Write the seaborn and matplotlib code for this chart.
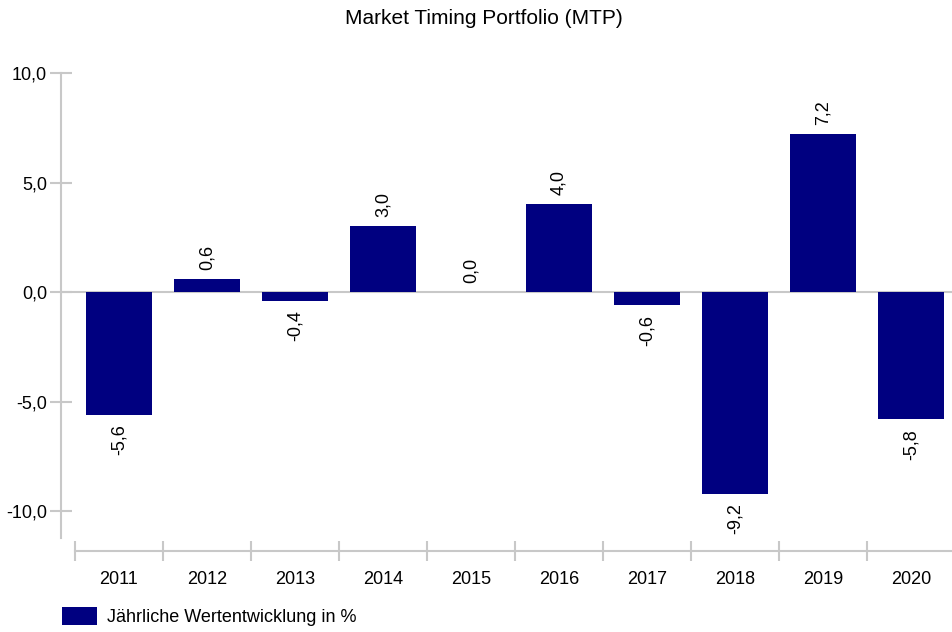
import matplotlib
matplotlib.use('Agg')
import matplotlib.pyplot as plt
import matplotlib.ticker as mticker
import seaborn as sns

years = ['2011', '2012', '2013', '2014', '2015', '2016', '2017', '2018', '2019', '2020']
returns = [-5.6, 0.6, -0.4, 3.0, 0.0, 4.0, -0.6, -9.2, 7.2, -5.8]
series_name = 'Jährliche Wertentwicklung in %'
title = 'Market Timing Portfolio (MTP)'

sns.set_style('white')
plt.rcParams['font.family'] = ['Liberation Sans', 'DejaVu Sans']
plt.rcParams['text.color'] = 'black'
plt.rcParams['xtick.labelcolor'] = 'black'
plt.rcParams['ytick.labelcolor'] = 'black'

W, H = 952, 632
fig = plt.figure(figsize=(W / 100, H / 100), dpi=100)
ax = fig.add_axes([61 / W, 1 - 538 / H, 1 - 61 / W, (538 - 73) / H])

grey = '#c8c8c8'
navy = '#000080'

sns.barplot(x=years, y=returns, color=navy, saturation=1, width=0.75,
            linewidth=0, label=series_name, ax=ax)

ax.axhline(0, color=grey, lw=1.5, zorder=0)

for i, v in enumerate(returns):
    txt = f'{v:.1f}'.replace('.', ',')
    if v >= 0:
        ax.annotate(txt, (i, v), xytext=(0, 6.5), textcoords='offset points',
                    rotation=90, ha='center', va='bottom', fontsize=13)
    else:
        ax.annotate(txt, (i, v), xytext=(0, -7), textcoords='offset points',
                    rotation=90, ha='center', va='top', fontsize=13)

ax.set_ylim(-11.23, 10)
ax.set_xlim(-0.659, 9.466)
ax.set_yticks([-10, -5, 0, 5, 10])
ax.yaxis.set_major_formatter(mticker.FuncFormatter(lambda v, p: f'{v:.1f}'.replace('.', ',')))

ax.set_xticks([i - 0.5 for i in range(10)])
ax.set_xticklabels([])
ax.set_xticks(range(10), minor=True)
ax.set_xticklabels(years, minor=True)
ax.set_xlabel('')
ax.set_ylabel('')

for s in ['top', 'right']:
    ax.spines[s].set_visible(False)
ax.spines['left'].set_color(grey)
ax.spines['left'].set_linewidth(1.5)
ax.spines['bottom'].set_color(grey)
ax.spines['bottom'].set_linewidth(1.5)
ax.spines['bottom'].set_position(('outward', 9.4))
ax.spines['bottom'].set_bounds(-0.5, 9.466)

ax.tick_params(axis='y', which='major', direction='inout', length=16, width=1.5,
               color=grey, pad=2, labelsize=13, left=True)
ax.tick_params(axis='x', which='major', direction='inout', length=14.4, width=1.5,
               color=grey, bottom=True)
ax.tick_params(axis='x', which='minor', length=0, pad=14, labelsize=13, bottom=True)

fig.text(0.5 * (345 + 623) / W, 1 - 19 / H, title, ha='center', va='center', fontsize=15)

leg = ax.legend(loc='upper left', bbox_to_anchor=(62 / W, 1 - 607 / H),
                bbox_transform=fig.transFigure, frameon=False, borderaxespad=0,
                borderpad=0, fontsize=13, handlelength=1.95, handleheight=1.15,
                handletextpad=0.55)

fig.savefig('out.png', dpi=100)
